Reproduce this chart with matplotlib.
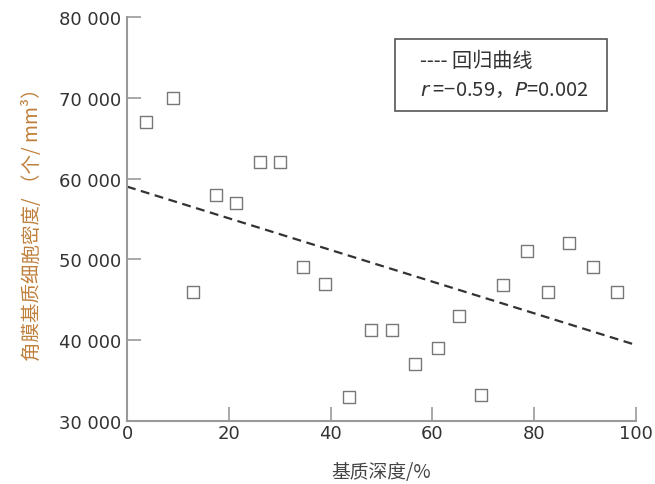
import matplotlib
matplotlib.use("Agg")
import matplotlib.pyplot as plt
from matplotlib.patches import Rectangle
from matplotlib.ticker import FuncFormatter

plt.rcParams['font.family'] = ['Noto Sans CJK SC', 'DejaVu Sans']

# --- dados ---
profundidade = [3.7, 9.0, 13.0, 17.5, 21.4, 26.1, 30.0, 34.6, 38.9, 43.6, 48.0,
                52.0, 56.6, 61.0, 65.2, 69.5, 73.9, 78.6, 82.7, 86.9, 91.6, 96.3]
densidade = [67000, 70000, 46000, 58000, 57000, 62000, 62000, 49000, 47000, 33000, 41200,
             41200, 37000, 39000, 43000, 33200, 46800, 51000, 46000, 52000, 49000, 46000]
reg_x = [0, 100]
reg_y = [59000, 39400]
x_ticks = [0, 20, 40, 60, 80, 100]
y_ticks = [30000, 40000, 50000, 60000, 70000, 80000]

fig = plt.figure(figsize=(6.55, 4.85), dpi=100)
ax = fig.add_axes([0.194, 0.130, 0.777, 0.833])

ax.plot(reg_x, reg_y, linestyle=(0, (4, 2.5)), color='#333333', linewidth=1.6, zorder=2)
ax.scatter(profundidade, densidade, marker='s', s=65, facecolors='white',
           edgecolors='#777777', linewidths=1.0, zorder=3)

ax.set_xlim(0, 100)
ax.set_ylim(30000, 80000)
ax.set_xticks(x_ticks)
ax.set_yticks(y_ticks)
ax.yaxis.set_major_formatter(FuncFormatter(lambda v, p: f"{int(v):,}".replace(",", " ")))

for s in ['top', 'right']:
    ax.spines[s].set_visible(False)
for s in ['left', 'bottom']:
    ax.spines[s].set_color('#999999')
    ax.spines[s].set_linewidth(1.5)
ax.tick_params(direction='in', length=10, width=1.2, color='#999999',
               labelsize=13, labelcolor='#333333')
ax.tick_params(axis='y', pad=4)
ax.tick_params(axis='x', pad=2)
for lbl in ax.get_xticklabels() + ax.get_yticklabels():
    lbl.set_family('DejaVu Sans')

ax.set_xlabel('基质深度/%', fontsize=13.5, color='#444444', labelpad=14)
ax.set_ylabel('角膜基质细胞密度/ （个/ mm³）', fontsize=14, color='#c0803c', labelpad=12)

# caixa da legenda
ax.add_patch(Rectangle((0.527, 0.767), 0.416, 0.179, transform=ax.transAxes,
                       fill=False, edgecolor='#555555', linewidth=1.2, zorder=4))
ax.text(0.576, 0.891, '---- 回归曲线', transform=ax.transAxes, fontsize=14.5,
        color='#333333', va='center', ha='left')
ax.text(0.576, 0.820, '$r$ =−0.59，$P$=0.002', transform=ax.transAxes, fontsize=14.5,
        color='#333333', va='center', ha='left')

fig.savefig('out.png', dpi=100)
